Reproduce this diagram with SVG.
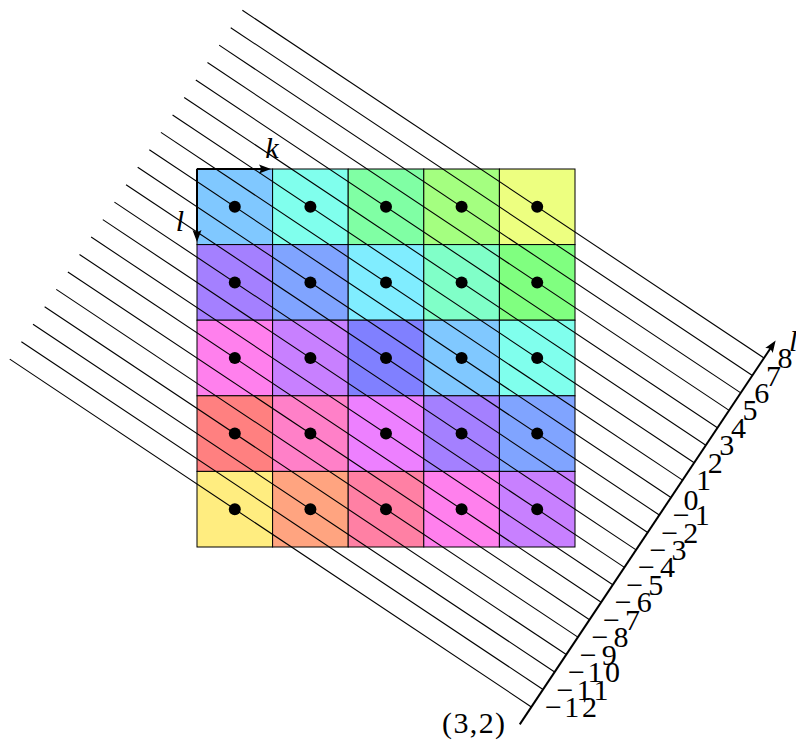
<svg xmlns="http://www.w3.org/2000/svg" width="796" height="740" viewBox="0 0 796 740">
<style>
.cell{stroke:#000;stroke-width:1}
.dot{fill:#000}
.hl{stroke:#000;stroke-width:1.1;fill:none}
.thick{stroke:#000;stroke-width:2;fill:none}
.lbl{font-family:"Liberation Serif","DejaVu Serif",serif;font-size:30px;fill:#000}
.it{font-style:italic}
</style>
<defs>
<marker id="arr" markerUnits="userSpaceOnUse" orient="auto" refX="-5" refY="0" markerWidth="1" markerHeight="1" overflow="visible">
<path d="M0,0 L-12,-4.5 Q-8.5,0 -12,4.5 Z" fill="#000"/>
</marker>
</defs>
<rect width="796" height="740" fill="#fff"/>
<g id="cells">
<g id="c00"><rect class="cell" x="197" y="169" width="75.6" height="75.6" fill="hsl(205.71,100%,75%)"/></g>
<g id="c10"><rect class="cell" x="272.6" y="169" width="75.6" height="75.6" fill="hsl(171.43,100%,75%)"/></g>
<g id="c20"><rect class="cell" x="348.2" y="169" width="75.6" height="75.6" fill="hsl(137.14,100%,75%)"/></g>
<g id="c30"><rect class="cell" x="423.8" y="169" width="75.6" height="75.6" fill="hsl(102.86,100%,75%)"/></g>
<g id="c40"><rect class="cell" x="499.4" y="169" width="75.6" height="75.6" fill="hsl(68.57,100%,75%)"/></g>
<g id="c01"><rect class="cell" x="197" y="244.6" width="75.6" height="75.6" fill="hsl(257.14,100%,75%)"/></g>
<g id="c11"><rect class="cell" x="272.6" y="244.6" width="75.6" height="75.6" fill="hsl(222.86,100%,75%)"/></g>
<g id="c21"><rect class="cell" x="348.2" y="244.6" width="75.6" height="75.6" fill="hsl(188.57,100%,75%)"/></g>
<g id="c31"><rect class="cell" x="423.8" y="244.6" width="75.6" height="75.6" fill="hsl(154.29,100%,75%)"/></g>
<g id="c41"><rect class="cell" x="499.4" y="244.6" width="75.6" height="75.6" fill="hsl(120,100%,75%)"/></g>
<g id="c02"><rect class="cell" x="197" y="320.2" width="75.6" height="75.6" fill="hsl(308.57,100%,75%)"/></g>
<g id="c12"><rect class="cell" x="272.6" y="320.2" width="75.6" height="75.6" fill="hsl(274.29,100%,75%)"/></g>
<g id="c22"><rect class="cell" x="348.2" y="320.2" width="75.6" height="75.6" fill="hsl(240,100%,75%)"/></g>
<g id="c32"><rect class="cell" x="423.8" y="320.2" width="75.6" height="75.6" fill="hsl(205.71,100%,75%)"/></g>
<g id="c42"><rect class="cell" x="499.4" y="320.2" width="75.6" height="75.6" fill="hsl(171.43,100%,75%)"/></g>
<g id="c03"><rect class="cell" x="197" y="395.8" width="75.6" height="75.6" fill="hsl(0,100%,75%)"/></g>
<g id="c13"><rect class="cell" x="272.6" y="395.8" width="75.6" height="75.6" fill="hsl(325.71,100%,75%)"/></g>
<g id="c23"><rect class="cell" x="348.2" y="395.8" width="75.6" height="75.6" fill="hsl(291.43,100%,75%)"/></g>
<g id="c33"><rect class="cell" x="423.8" y="395.8" width="75.6" height="75.6" fill="hsl(257.14,100%,75%)"/></g>
<g id="c43"><rect class="cell" x="499.4" y="395.8" width="75.6" height="75.6" fill="hsl(222.86,100%,75%)"/></g>
<g id="c04"><rect class="cell" x="197" y="471.4" width="75.6" height="75.6" fill="hsl(51.43,100%,75%)"/></g>
<g id="c14"><rect class="cell" x="272.6" y="471.4" width="75.6" height="75.6" fill="hsl(17.14,100%,75%)"/></g>
<g id="c24"><rect class="cell" x="348.2" y="471.4" width="75.6" height="75.6" fill="hsl(342.86,100%,75%)"/></g>
<g id="c34"><rect class="cell" x="423.8" y="471.4" width="75.6" height="75.6" fill="hsl(308.57,100%,75%)"/></g>
<g id="c44"><rect class="cell" x="499.4" y="471.4" width="75.6" height="75.6" fill="hsl(274.29,100%,75%)"/></g>
</g>
<g id="connectors">
<line class="hl" x1="9.74" y1="359.16" x2="531.38" y2="706.92"/>
<line class="hl" x1="21.37" y1="341.72" x2="543.01" y2="689.48"/>
<line class="hl" x1="33.00" y1="324.27" x2="554.64" y2="672.03"/>
<line class="hl" x1="44.63" y1="306.82" x2="566.27" y2="654.58"/>
<line class="hl" x1="56.26" y1="289.38" x2="577.90" y2="637.14"/>
<line class="hl" x1="67.89" y1="271.93" x2="589.53" y2="619.69"/>
<line class="hl" x1="79.52" y1="254.49" x2="601.16" y2="602.25"/>
<line class="hl" x1="91.16" y1="237.04" x2="612.80" y2="584.80"/>
<line class="hl" x1="102.79" y1="219.59" x2="624.43" y2="567.35"/>
<line class="hl" x1="114.42" y1="202.15" x2="636.06" y2="549.91"/>
<line class="hl" x1="126.05" y1="184.70" x2="647.69" y2="532.46"/>
<line class="hl" x1="137.68" y1="167.26" x2="659.32" y2="515.02"/>
<line class="hl" x1="149.31" y1="149.81" x2="670.95" y2="497.57"/>
<line class="hl" x1="160.94" y1="132.36" x2="682.58" y2="480.12"/>
<line class="hl" x1="172.57" y1="114.92" x2="694.21" y2="462.68"/>
<line class="hl" x1="184.20" y1="97.47" x2="705.84" y2="445.23"/>
<line class="hl" x1="195.83" y1="80.03" x2="717.47" y2="427.79"/>
<line class="hl" x1="207.47" y1="62.58" x2="729.11" y2="410.34"/>
<line class="hl" x1="219.10" y1="45.13" x2="740.74" y2="392.89"/>
<line class="hl" x1="230.73" y1="27.69" x2="752.37" y2="375.45"/>
<line class="hl" x1="242.36" y1="10.24" x2="764.00" y2="358.00"/>
<line class="thick" x1="197" y1="169" x2="266" y2="169" marker-end="url(#arr)"/>
<line class="thick" x1="197" y1="169" x2="197" y2="237" marker-end="url(#arr)"/>
<line class="thick" x1="519.75" y1="724.37" x2="772.86" y2="344.72" marker-end="url(#arr)"/>
</g>
<g id="dots">
<circle class="dot" cx="234.8" cy="206.8" r="6"/><circle class="dot" cx="310.4" cy="206.8" r="6"/><circle class="dot" cx="386" cy="206.8" r="6"/><circle class="dot" cx="461.6" cy="206.8" r="6"/><circle class="dot" cx="537.2" cy="206.8" r="6"/>
<circle class="dot" cx="234.8" cy="282.4" r="6"/><circle class="dot" cx="310.4" cy="282.4" r="6"/><circle class="dot" cx="386" cy="282.4" r="6"/><circle class="dot" cx="461.6" cy="282.4" r="6"/><circle class="dot" cx="537.2" cy="282.4" r="6"/>
<circle class="dot" cx="234.8" cy="358" r="6"/><circle class="dot" cx="310.4" cy="358" r="6"/><circle class="dot" cx="386" cy="358" r="6"/><circle class="dot" cx="461.6" cy="358" r="6"/><circle class="dot" cx="537.2" cy="358" r="6"/>
<circle class="dot" cx="234.8" cy="433.6" r="6"/><circle class="dot" cx="310.4" cy="433.6" r="6"/><circle class="dot" cx="386" cy="433.6" r="6"/><circle class="dot" cx="461.6" cy="433.6" r="6"/><circle class="dot" cx="537.2" cy="433.6" r="6"/>
<circle class="dot" cx="234.8" cy="509.2" r="6"/><circle class="dot" cx="310.4" cy="509.2" r="6"/><circle class="dot" cx="386" cy="509.2" r="6"/><circle class="dot" cx="461.6" cy="509.2" r="6"/><circle class="dot" cx="537.2" cy="509.2" r="6"/>
</g>
<g id="labels" class="lbl">
<text class="it" x="272" y="158" text-anchor="middle">k</text>
<text class="it" x="180" y="231" text-anchor="middle">l</text>
<text class="it" x="789" y="350.5">l</text>
<text x="505" y="733" text-anchor="end" textLength="63" lengthAdjust="spacing">(3,2)</text>
<text x="544.9" y="716.9" textLength="52">−12</text>
<text x="556.5" y="699.5" textLength="52">−11</text>
<text x="568.1" y="682.0" textLength="52">−10</text>
<text x="579.8" y="664.6" textLength="37">−9</text>
<text x="591.4" y="647.1" textLength="37">−8</text>
<text x="603.0" y="629.7" textLength="37">−7</text>
<text x="614.7" y="612.2" textLength="37">−6</text>
<text x="626.3" y="594.8" textLength="37">−5</text>
<text x="637.9" y="577.4" textLength="37">−4</text>
<text x="649.6" y="559.9" textLength="37">−3</text>
<text x="661.2" y="542.5" textLength="37">−2</text>
<text x="672.8" y="525.0" textLength="37">−1</text>
<text x="683.5" y="510">0</text>
<text x="696.1" y="490.1">1</text>
<text x="707.7" y="472.7">2</text>
<text x="719.3" y="455.2">3</text>
<text x="731.0" y="437.8">4</text>
<text x="742.6" y="420.3">5</text>
<text x="754.2" y="402.9">6</text>
<text x="765.9" y="385.5">7</text>
<text x="777.5" y="368.0">8</text>
</g>
</svg>
